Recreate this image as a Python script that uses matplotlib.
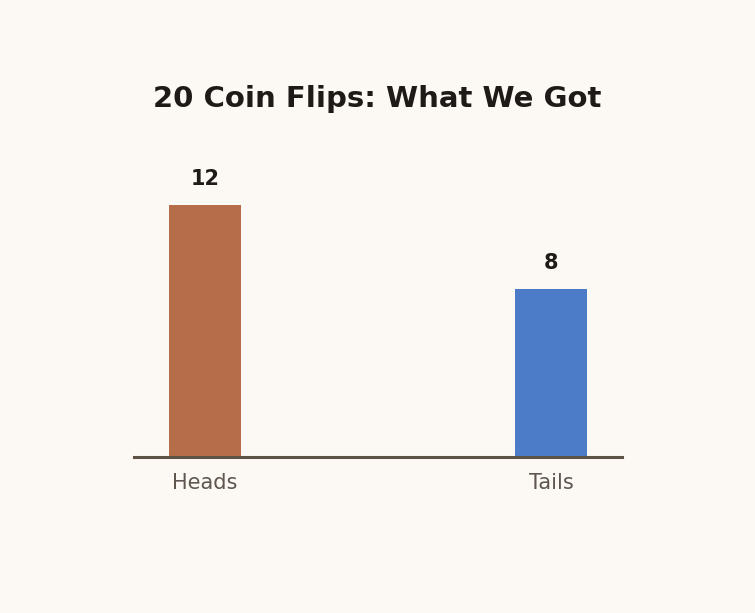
import matplotlib
matplotlib.use("Agg")
import matplotlib.pyplot as plt

# coin flip results
outcomes = ["Heads", "Tails"]
counts = [12, 8]
bar_colors = ["#b56d4a", "#4c7cc8"]

bg = "#fcf9f4"

fig = plt.figure(figsize=(7.55, 6.13), dpi=100, facecolor=bg)
ax = fig.add_axes([0.1775, 0.2545, 0.6464, 0.4796], facecolor=bg)

positions = list(range(len(outcomes)))
bars = ax.bar(positions, counts, width=0.208, color=bar_colors, zorder=2)

for b, c in zip(bars, counts):
    ax.annotate(str(c), (b.get_x() + b.get_width() / 2, c),
                xytext=(0, 11.3), textcoords="offset points",
                ha="center", va="bottom", fontsize=15, fontweight="bold",
                color="#1e1a17")

ax.set_xlim(-0.205, 1.205)
ax.set_ylim(0, 14)
ax.set_xticks(positions)
ax.set_xticklabels(outcomes, fontsize=15, color="#5f5650")
ax.tick_params(axis="x", length=0, pad=11.5)
ax.set_yticks([])

for side in ["top", "right", "left"]:
    ax.spines[side].set_visible(False)
ax.spines["bottom"].set_color("#5e5347")
ax.spines["bottom"].set_linewidth(2.2)
ax.spines["bottom"].set_zorder(3)

fig.text(0.5, 1 - 99 / 613, "20 Coin Flips: What We Got", ha="center", va="center",
         fontsize=21, fontweight="bold", color="#1e1a17")

fig.savefig("out.png", dpi=100, facecolor=bg)
